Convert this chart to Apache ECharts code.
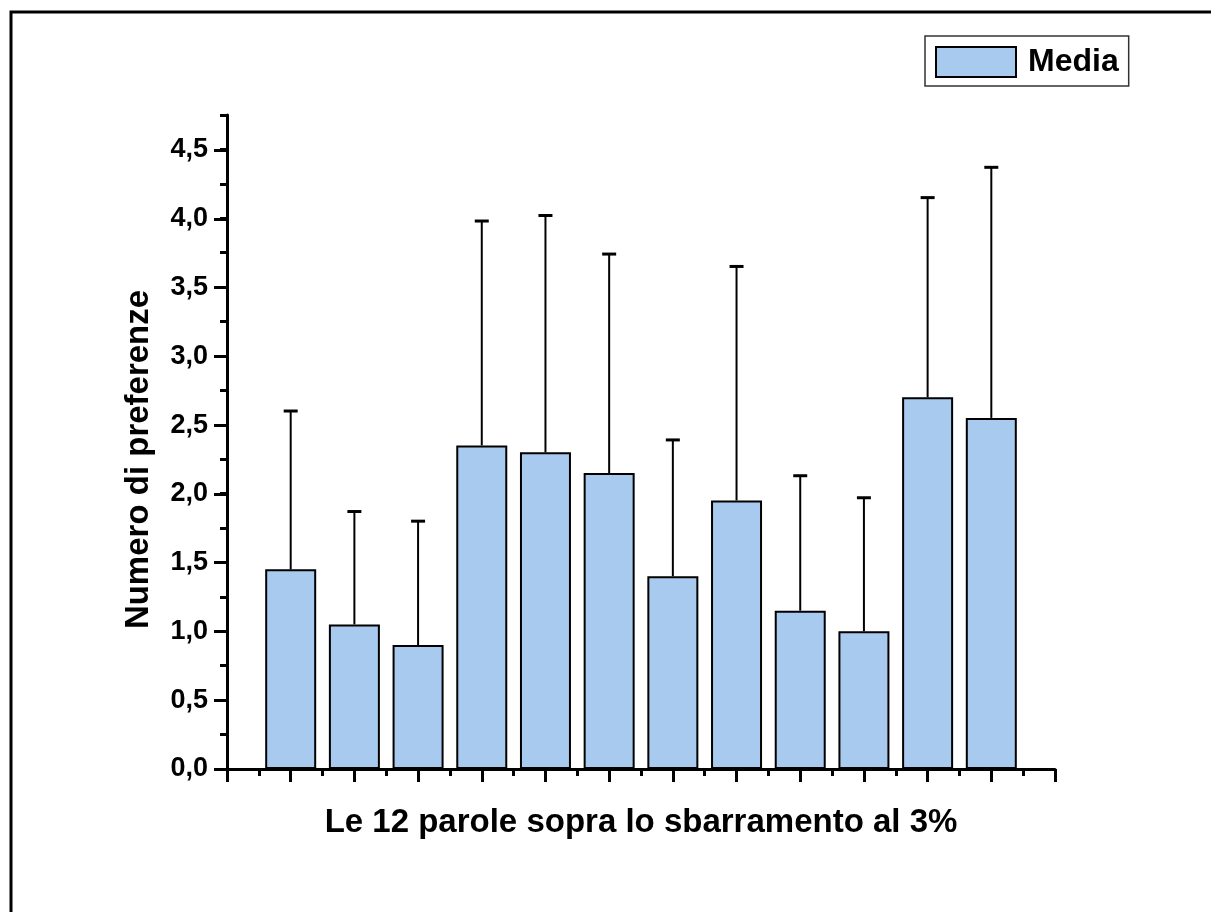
<!DOCTYPE html>
<html lang="it">
<head>
<meta charset="UTF-8">
<title>Numero di preferenze</title>
<script src="https://cdn.jsdelivr.net/npm/echarts@6/dist/echarts.min.js"></script>
<style>
    html, body { margin: 0; padding: 0; background: #fff; }
    #chart { width: 1211px; height: 912px; }
</style>
</head>
<body>

<div id="chart"></div>

<script>
// posizioni delle barre (1..12) e valori
var positions = [1, 2, 3, 4, 5, 6, 7, 8, 9, 10, 11, 12];
var means = [1.45, 1.05, 0.9, 2.35, 2.3, 2.15, 1.4, 1.95, 1.15, 1.0, 2.7, 2.55];
var upper = [2.6, 1.87, 1.8, 3.98, 4.02, 3.74, 2.39, 3.65, 2.13, 1.97, 4.15, 4.37];

var chartDom = document.getElementById('chart');
var myChart = echarts.init(chartDom);

var barData = positions.map(function (p, i) { return [p, means[i]]; });
var errData = positions.map(function (p, i) { return [p, means[i], upper[i]]; });

var font = '"Liberation Sans", Arial, sans-serif';

var option = {
    animation: false,
    backgroundColor: '#fff',
    textStyle: { fontFamily: font },
    graphic: [{
        type: 'rect',
        shape: { x: 11, y: 12, width: 1300, height: 1000 },
        style: { fill: 'none', stroke: '#000', lineWidth: 3 },
        silent: true
    }],
    legend: {
        left: 925,
        top: 36,
        padding: [10, 10, 8, 10],
        icon: 'rect',
        itemWidth: 80,
        itemHeight: 30,
        itemGap: 10,
        backgroundColor: '#fff',
        borderColor: '#333',
        borderWidth: 1.5,
        borderRadius: 0,
        itemStyle: { borderColor: '#000', borderWidth: 2 },
        textStyle: { fontSize: 32, fontWeight: 'bold', color: '#000', fontFamily: font, padding: [0, 0, 0, 7] },
        data: ['Media']
    },
    grid: [
        { left: 227, right: 156, top: 115, bottom: 143 },
        { left: 227, right: 156, top: 150, bottom: 143 }
    ],
    xAxis: [{
        type: 'value',
        gridIndex: 0,
        min: 0,
        max: 13,
        interval: 1,
        name: 'Le 12 parole sopra lo sbarramento al 3%',
        nameLocation: 'middle',
        nameGap: 37,
        nameTextStyle: { fontSize: 33, fontWeight: 'bold', color: '#000', fontFamily: font },
        axisLine: { lineStyle: { color: '#000', width: 3 } },
        axisTick: { inside: false, length: 13, lineStyle: { color: '#000', width: 3 } },
        minorTick: { show: true, splitNumber: 2, length: 7, lineStyle: { color: '#000', width: 3 } },
        axisLabel: { show: false },
        splitLine: { show: false }
    }, {
        type: 'value',
        gridIndex: 1,
        min: 0,
        max: 13,
        show: false
    }],
    yAxis: [{
        // asse completo con i tick minori
        type: 'value',
        gridIndex: 0,
        min: 0,
        max: 4.75,
        interval: 0.25,
        axisLine: { show: true, lineStyle: { color: '#000', width: 3 } },
        axisTick: { show: true, length: 7, lineStyle: { color: '#000', width: 3 } },
        axisLabel: { show: false },
        splitLine: { show: false }
    }, {
        // tick maggiori ed etichette
        type: 'value',
        gridIndex: 1,
        min: 0,
        max: 4.5,
        interval: 0.5,
        name: 'Numero di preferenze',
        nameLocation: 'middle',
        nameGap: 72,
        nameRotate: 90,
        nameTextStyle: { fontSize: 33, fontWeight: 'bold', color: '#000', fontFamily: font },
        axisLine: { show: true, lineStyle: { color: '#000', width: 3 } },
        axisTick: { show: true, length: 13, lineStyle: { color: '#000', width: 3 } },
        axisLabel: {
            margin: 19,
            fontSize: 27,
            fontWeight: 'bold',
            color: '#000',
            fontFamily: font,
            formatter: function (v) { return v.toFixed(1).replace('.', ','); }
        },
        splitLine: { show: false }
    }],
    series: [{
        name: 'Media',
        type: 'bar',
        xAxisIndex: 0,
        yAxisIndex: 0,
        barWidth: 51,
        data: barData,
        itemStyle: { color: '#a8caee', borderColor: '#000', borderWidth: 2 },
        z: 2
    }, {
        name: 'err',
        type: 'custom',
        xAxisIndex: 0,
        yAxisIndex: 0,
        data: errData,
        z: 1,
        renderItem: function (params, api) {
            var base = api.coord([api.value(0), api.value(1)]);
            var top = api.coord([api.value(0), api.value(2)]);
            return {
                type: 'group',
                children: [{
                    type: 'line',
                    shape: { x1: base[0], y1: base[1], x2: top[0], y2: top[1] },
                    style: { stroke: '#000', lineWidth: 2 }
                }, {
                    type: 'line',
                    shape: { x1: top[0] - 7, y1: top[1], x2: top[0] + 7, y2: top[1] },
                    style: { stroke: '#000', lineWidth: 3 }
                }]
            };
        }
    }]
};

myChart.setOption(option);
</script>

</body>
</html>
